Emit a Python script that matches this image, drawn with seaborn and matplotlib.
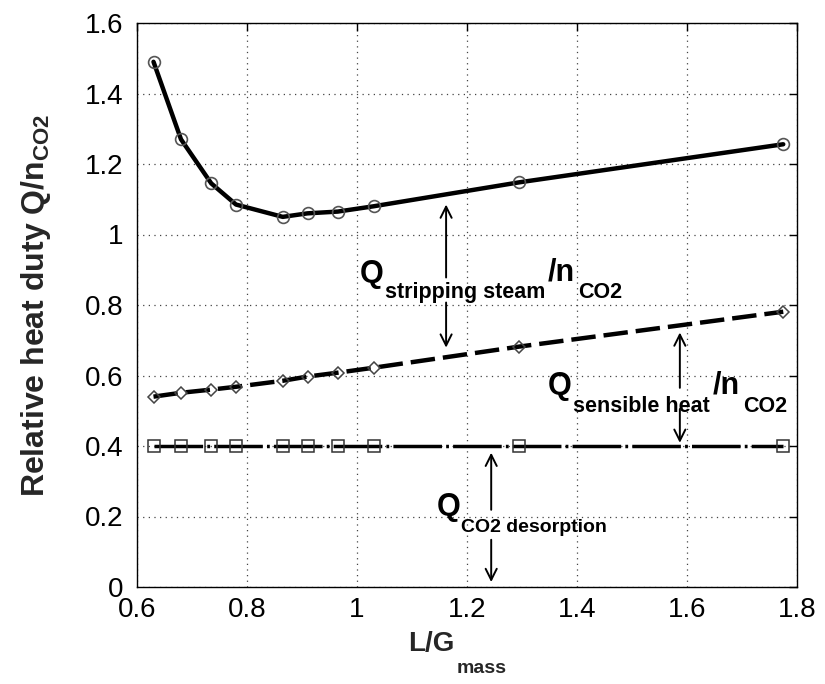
import matplotlib
matplotlib.use("Agg")
import matplotlib.pyplot as plt
import seaborn as sns
import pandas as pd

# ---- data ----
L_G_mass = [0.63, 0.68, 0.735, 0.78, 0.865, 0.91, 0.965, 1.03, 1.295, 1.775]
Q_total = [1.49, 1.27, 1.145, 1.085, 1.05, 1.06, 1.065, 1.08, 1.148, 1.256]
Q_sens_plus_des = [0.54, 0.551, 0.56, 0.568, 0.585, 0.597, 0.608, 0.622, 0.682, 0.781]
Q_desorption = [0.40, 0.40, 0.40, 0.40, 0.40, 0.40, 0.40, 0.40, 0.40, 0.40]

x_ticks = [0.6, 0.8, 1.0, 1.2, 1.4, 1.6, 1.8]
x_tick_labels = ["0.6", "0.8", "1", "1.2", "1.4", "1.6", "1.8"]
y_ticks = [0, 0.2, 0.4, 0.6, 0.8, 1.0, 1.2, 1.4, 1.6]
y_tick_labels = ["0", "0.2", "0.4", "0.6", "0.8", "1", "1.2", "1.4", "1.6"]

df = pd.DataFrame({"LG": L_G_mass, "total": Q_total,
                   "sens": Q_sens_plus_des, "des": Q_desorption})

sns.set_theme(style="white")
plt.rcParams["font.family"] = ["Liberation Sans", "DejaVu Sans"]
plt.rcParams["mathtext.fontset"] = "custom"
plt.rcParams["mathtext.rm"] = "Liberation Sans"
plt.rcParams["mathtext.bf"] = "Liberation Sans:bold"
plt.rcParams["mathtext.it"] = "Liberation Sans:italic"

W, H = 825, 684
fig = plt.figure(figsize=(W / 100, H / 100), dpi=100)
ax = fig.add_axes([137 / W, 1 - 587 / H, 660 / W, 564 / H])

sns.lineplot(data=df, x="LG", y="total", ax=ax, color="black", lw=3.2,
             marker="o", markersize=8.5, markerfacecolor="none",
             markeredgecolor="#555555", markeredgewidth=1.2, zorder=3)
sns.lineplot(data=df, x="LG", y="sens", ax=ax, color="black", lw=3.2,
             dashes=(5.5, 1.8),
             marker="D", markersize=6.5, markerfacecolor="none",
             markeredgecolor="#444444", markeredgewidth=1.1, zorder=3)
sns.lineplot(data=df, x="LG", y="des", ax=ax, color="black", lw=2.5,
             dashes=(14, 1.2, 0.8, 1.2),
             marker="s", markersize=8.5, markerfacecolor="none",
             markeredgecolor="#333333", markeredgewidth=1.1, zorder=3)

ax.set_xlim(0.6, 1.8)
ax.set_ylim(0, 1.6)
ax.set_xticks(x_ticks)
ax.set_xticklabels(x_tick_labels)
ax.set_yticks(y_ticks)
ax.set_yticklabels(y_tick_labels)
ax.tick_params(direction="in", length=6, width=1, top=True, right=True,
               labelsize=20, colors="black", pad=7)
ax.tick_params(axis="y", pad=10)
ax.grid(True, linestyle=(0, (1, 3.5)), color="#444444", lw=0.9)
for sp in ax.spines.values():
    sp.set_color("black")
    sp.set_linewidth(1.0)
ax.set_xlabel("")
ax.set_ylabel("")

# axis titles (placed as figure text to mimic the low subscripts)
fig.text(408 / W, 1 - 651 / H, "L/G", fontsize=20, fontweight="bold",
         ha="left", va="baseline")
fig.text(457 / W, 1 - 673 / H, "mass", fontsize=14, fontweight="bold",
         ha="left", va="baseline")
fig.text(36 / W, 1 - 305 / H, r"Relative heat duty Q/n$_{\mathbf{CO2}}$",
         fontsize=23, fontweight="bold", rotation=90, ha="center", va="center")


def txt(x, y, s, size):
    ax.text(x, y, s, fontsize=size, fontweight="bold", ha="left",
            va="baseline", color="black", zorder=5)


def arrow(x, tail, tip):
    ax.annotate("", xy=(x, tip), xytext=(x, tail),
                arrowprops=dict(arrowstyle="->", lw=1.4, color="black",
                                shrinkA=0, shrinkB=0, mutation_scale=20),
                zorder=4)


# Q stripping steam / n CO2
txt(1.005, 0.866, "Q", 22)
txt(1.051, 0.821, "stripping steam", 15.5)
txt(1.347, 0.869, "/n", 22)
txt(1.402, 0.821, "CO2", 15.5)
arrow(1.162, 0.878, 1.085)
arrow(1.162, 0.807, 0.679)

# Q sensible heat / n CO2
txt(1.347, 0.548, "Q", 22)
txt(1.393, 0.497, "sensible heat", 15.5)
txt(1.647, 0.548, "/n", 22)
txt(1.702, 0.497, "CO2", 15.5)
arrow(1.587, 0.565, 0.722)
arrow(1.587, 0.505, 0.409)

# Q CO2 desorption
txt(1.145, 0.205, "Q", 22)
txt(1.189, 0.156, "CO2 desorption", 14)
arrow(1.244, 0.219, 0.381)
arrow(1.244, 0.134, 0.014)

fig.savefig("out.png", dpi=100)
